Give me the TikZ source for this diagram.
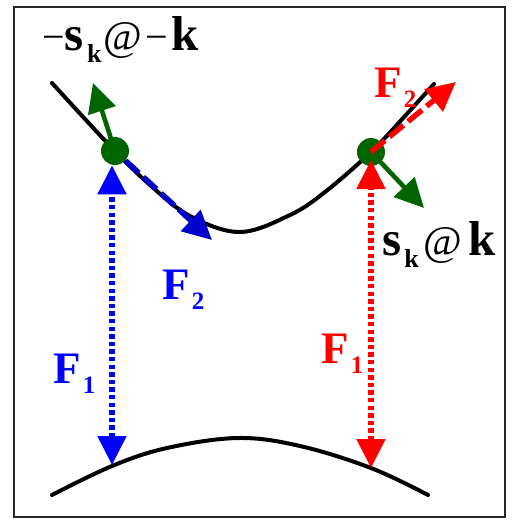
\documentclass[tikz,border=0pt]{standalone}
\usepackage{fontspec}
\setmainfont{Liberation Serif}
\usetikzlibrary{arrows.meta}

\definecolor{dkgreen}{RGB}{0,100,0}
\definecolor{dkblue}{RGB}{0,0,205}

% bold subscripts
\newcommand{\lowsub}[1]{\raisebox{-5pt}{\fontsize{12.5}{12.5}\selectfont\bfseries #1}}
\newcommand{\Fsub}[1]{\textbf{F}\kern1pt\lowsub{#1}}
\newcommand{\sksub}{\textbf{s}\kern1.5pt\raisebox{-6pt}{\fontsize{13}{13}\selectfont\bfseries k}}
\newcommand{\mminus}{{\mdseries\fontsize{20}{20}\selectfont −}}
\newcommand{\mat}{{\mdseries\fontsize{21}{21}\selectfont @}}

\begin{document}
\begin{tikzpicture}[x=0.5pt, y=-0.5pt, >={Triangle[length=14.5pt, width=14pt]},
	curve/.style={line width=2pt, line cap=round},
	lab/.style={inner sep=0pt, anchor=base west, font=\fontsize{22.5}{22.5}\selectfont\bfseries},
	biglab/.style={inner sep=0pt, anchor=base west, font=\fontsize{24.5}{24.5}\selectfont\bfseries},
	dot/.style={circle, fill=dkgreen, inner sep=0pt, minimum size=14pt},
	normal/.style={->, dkgreen, line width=2.3pt},
	dotted arrow/.style={<->, line width=2.6pt, dash pattern=on 2.2pt off 1.6pt},
	dashed arrow/.style={->, line width=2.7pt, dash pattern=on 9pt off 3pt}]
	\useasboundingbox (0,0) rectangle (516,521);
	\draw[black!85, line width=1.3pt] (14,7) rectangle (505,517);
	% the two curves
	\draw[curve] plot[smooth, tension=0.6] coordinates {(52,83) (85,119) (115,151) (150,185) (190,216) (240,232) (290,215) (325,192) (371,152) (405,116) (434,84)};
	\draw[curve] plot[smooth, tension=0.6] coordinates {(52,495) (112,466) (167,448) (238,438) (300,446) (371,468) (428,495)};
	% points and arrow ends
	\coordinate (nL) at (93,83);
	\coordinate (nR) at (424,208);
	\coordinate (tL) at (212,240);
	\coordinate (tR) at (456,82);
	\coordinate (baseL) at (112,465);
	\coordinate (baseR) at (371,468);
	\draw[normal] (115,151) -- (nL);
	\draw[normal] (371,152) -- (nR);
	\node[dot] (dotL) at (115,151) {};
	\node[dot] (dotR) at (371,152) {};
	\draw[dotted arrow, blue] (baseL) -- (baseL |- dotL.south);
	\draw[dotted arrow, red, shorten >=4pt] (baseR) -- (dotR.center);
	\draw[dashed arrow, dkblue] (dotL) -- (tL);
	\draw[dashed arrow, red] (dotR.center) -- (tR);
	% labels
	\node[biglab] (mlabel) at (42,50) {\mminus\sksub\kern1pt\mat\kern1.5pt\mminus\kern2pt k};
	\node[biglab] (plabel) at (382,255) {\sksub\kern2.5pt\mat\kern3pt k};
	\node[lab, red] (F2r) at (374,97) {\Fsub{2}};
	\node[lab, blue] (F2b) at (162,299) {\Fsub{2}};
	\node[lab, blue] (F1b) at (53,383) {\Fsub{1}};
	\node[lab, red] (F1r) at (321,363) {\Fsub{1}};
\end{tikzpicture}
\end{document}
